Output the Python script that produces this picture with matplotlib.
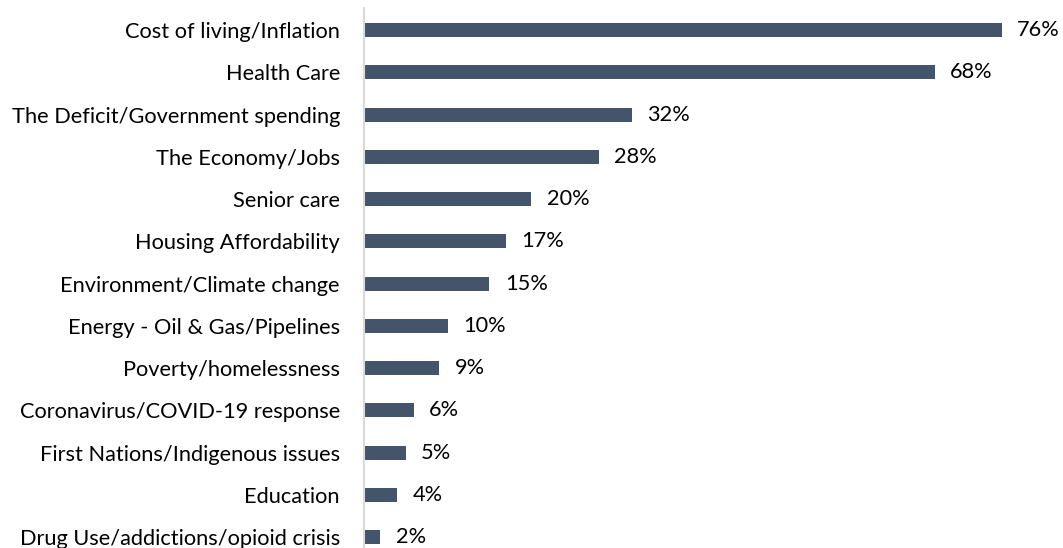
import matplotlib
matplotlib.use("Agg")
import matplotlib.pyplot as plt

plt.rcParams['font.family'] = ['Lato', 'DejaVu Sans']

categories = [
    "Cost of living/Inflation",
    "Health Care",
    "The Deficit/Government spending",
    "The Economy/Jobs",
    "Senior care",
    "Housing Affordability",
    "Environment/Climate change",
    "Energy - Oil & Gas/Pipelines",
    "Poverty/homelessness",
    "Coronavirus/COVID-19 response",
    "First Nations/Indigenous issues",
    "Education",
    "Drug Use/addictions/opioid crisis",
]
values = [76, 68, 32, 28, 20, 17, 15, 10, 9, 6, 5, 4, 2]

bar_color = '#44546A'
fs = 15.7

fig = plt.figure(figsize=(10.63, 5.48), dpi=100)
ax = fig.add_axes([0.342, 0.0, 0.658, 0.985])

y = list(range(len(categories)))
ax.barh(y, values, height=0.33, color=bar_color)

# percentage labels at the end of each bar
for yi, v in zip(y, values):
    ax.annotate(f"{v}%", xy=(v, yi), xytext=(11, 0), textcoords='offset points',
                va='center', ha='left', fontsize=fs, color='black')

ax.set_xlim(0, 83.3)
ax.set_ylim(12.26, -0.52)
ax.set_yticks(y)
ax.set_yticklabels(categories, fontsize=fs)
ax.tick_params(axis='y', length=0, pad=17)
ax.set_xticks([])

for s in ['top', 'right', 'bottom']:
    ax.spines[s].set_visible(False)
ax.spines['left'].set_color('#D9D9D9')
ax.spines['left'].set_linewidth(1.5)

fig.savefig('out.png', dpi=100)
